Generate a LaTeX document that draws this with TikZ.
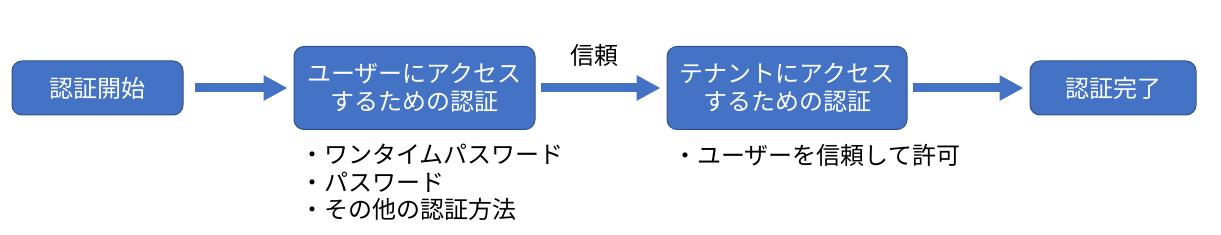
\documentclass[tikz,border=0pt]{standalone}
\usepackage{fontspec}
\setmainfont{Noto Sans CJK JP}
\usepackage{xcolor}
\usepackage{tikz}
\usetikzlibrary{arrows.meta, positioning}
\definecolor{officeblue}{RGB}{68, 114, 196}
\definecolor{officeborder}{RGB}{47, 82, 143}
\tikzstyle{stepbox} = [draw=officeborder, fill=officeblue, text=white, rounded corners=10pt, line width=1pt, align=center, font=\fontsize{24}{28}\selectfont, inner sep=0pt]
\tikzstyle{bigarrow} = [-{Triangle[length=24pt, width=24pt]}, line width=9pt, draw=officeblue, shorten <=5pt, shorten >=6pt]
\tikzstyle{note} = [align=left, anchor=north west, inner sep=0pt, font=\fontsize{24}{27.5}\selectfont]

\begin{document}
\begin{tikzpicture}[x=1pt, y=-1pt]
    \useasboundingbox (0, 0) rectangle (1221, 235);

    % Steps
    \node[stepbox, minimum width=171pt, minimum height=54pt] (start) at (97.5, 88) {認証開始};
    \node[stepbox, minimum width=241pt, minimum height=83pt] (user) at (414.5, 88) {ユーザーにアクセス\\するための認証};
    \node[stepbox, minimum width=240pt, minimum height=83pt] (tenant) at (787, 88) {テナントにアクセス\\するための認証};
    \node[stepbox, minimum width=166pt, minimum height=54pt] (done) at (1113, 88) {認証完了};

    % Arrows
    \draw[bigarrow, shorten <=11pt] (start) -- (user);
    \draw[bigarrow] (user) -- node[pos=0.45, above=17pt, inner sep=0pt, font=\fontsize{24}{28}\selectfont] (trust) {信頼} (tenant);
    \draw[bigarrow] (tenant) -- (done);

    % Notes
    \node[note] (usernote) at (300, 144) {・ワンタイムパスワード\\・パスワード\\・その他の認証方法};
    \node[note] (tenantnote) at (673, 144) {・ユーザーを信頼して許可};
\end{tikzpicture}
\end{document}
